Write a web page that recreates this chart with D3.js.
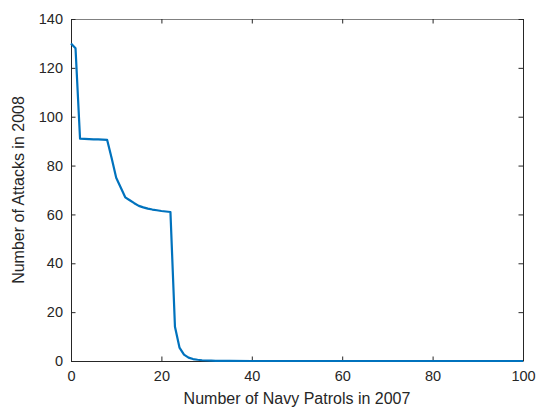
<!DOCTYPE html>
<html>
<head>
<meta charset="utf-8">
<script src="https://cdn.jsdelivr.net/npm/d3@7"></script>
<style>
  html, body { margin: 0; padding: 0; background: #fff; }
  svg { display: block; font-family: "Liberation Sans", Arial, Helvetica, sans-serif; }
</style>
</head>
<body>
<svg id="chart" width="537" height="408"></svg>
<script>
// Number of navy patrols in 2007 (x) and resulting attacks in 2008 (y)
const patrols = [0, 1, 2, 3, 4, 5, 6, 7, 8, 9, 10, 11, 12, 13, 14, 15, 16, 17, 18, 19, 20, 21, 22,
                 23, 24, 25, 26, 27, 28, 29, 30, 31, 32, 33, 34, 35, 40, 50, 60, 70, 80, 90, 100];
const attacks = [130, 128, 91, 90.9, 90.8, 90.7, 90.7, 90.6, 90.5, 83, 75, 71, 67, 65.8, 64.6, 63.5,
                 62.9, 62.4, 62, 61.7, 61.4, 61.2, 61,
                 14, 5.5, 2.6, 1.4, 0.8, 0.5, 0.3, 0.2, 0.12, 0.08, 0.05, 0.03, 0.02, 0, 0, 0, 0, 0, 0, 0];

const xTicks = [0, 20, 40, 60, 80, 100];
const yTicks = [0, 20, 40, 60, 80, 100, 120, 140];
const xTitle = "Number of Navy Patrols in 2007";
const yTitle = "Number of Attacks in 2008";

const margin = { left: 71, right: 14, top: 19, bottom: 47 };
const W = 537, H = 408;
const iw = W - margin.left - margin.right;
const ih = H - margin.top - margin.bottom;

const svg = d3.select("#chart");
const g = svg.append("g").attr("transform", `translate(${margin.left},${margin.top})`);

const x = d3.scaleLinear().domain([0, 100]).range([0, iw]);
const y = d3.scaleLinear().domain([0, 140]).range([ih, 0]);

const axisColor = "#262626";
const tickLen = 4.5;

// Box: top and right edges
g.append("line").attr("x1", 0).attr("x2", iw).attr("y1", 0.5).attr("y2", 0.5)
  .attr("stroke", "#808080").attr("stroke-width", 1);
g.append("line").attr("x1", iw + 0.5).attr("x2", iw + 0.5).attr("y1", 0).attr("y2", ih)
  .attr("stroke", axisColor).attr("stroke-width", 1);

// Bottom axis (ticks pointing inward)
const xAxis = g.append("g").attr("transform", `translate(0,${ih})`)
  .call(d3.axisBottom(x).tickValues(xTicks).tickSize(-tickLen).tickSizeOuter(0).tickPadding(8));
// Top axis ticks (inward)
const xAxisTop = g.append("g")
  .call(d3.axisTop(x).tickValues(xTicks).tickSize(-tickLen).tickSizeOuter(0).tickFormat(""));
// Left axis
const yAxis = g.append("g")
  .call(d3.axisLeft(y).tickValues(yTicks).tickSize(-tickLen).tickSizeOuter(0).tickPadding(8));
// Right axis ticks
const yAxisRight = g.append("g").attr("transform", `translate(${iw},0)`)
  .call(d3.axisRight(y).tickValues(yTicks).tickSize(-tickLen).tickSizeOuter(0).tickFormat(""));

[xAxis, xAxisTop, yAxis, yAxisRight].forEach(a => {
  a.selectAll("path").attr("stroke", axisColor);
  a.selectAll("line").attr("stroke", axisColor);
  a.selectAll("text").attr("fill", axisColor).style("font-size", "14.5px")
    .style("font-family", "'Liberation Sans', Arial, sans-serif");
});
xAxisTop.select("path").remove();
yAxisRight.select("path").remove();
xAxis.selectAll("text").attr("dy", "0.8em");

// Data line
const line = d3.line()
  .x((d, i) => x(patrols[i]))
  .y(d => y(d));

g.append("path")
  .datum(attacks)
  .attr("fill", "none")
  .attr("stroke", "#0072BD")
  .attr("stroke-width", 2.2)
  .attr("stroke-linejoin", "round")
  .attr("d", line);

// Axis titles
svg.append("text")
  .attr("x", margin.left + iw / 2)
  .attr("y", 404)
  .attr("text-anchor", "middle")
  .attr("fill", axisColor)
  .style("font-size", "16px")
  .text(xTitle);

svg.append("text")
  .attr("transform", `translate(24,${margin.top + ih / 2}) rotate(-90)`)
  .attr("text-anchor", "middle")
  .attr("fill", axisColor)
  .style("font-size", "16px")
  .text(yTitle);
</script>
</body>
</html>
